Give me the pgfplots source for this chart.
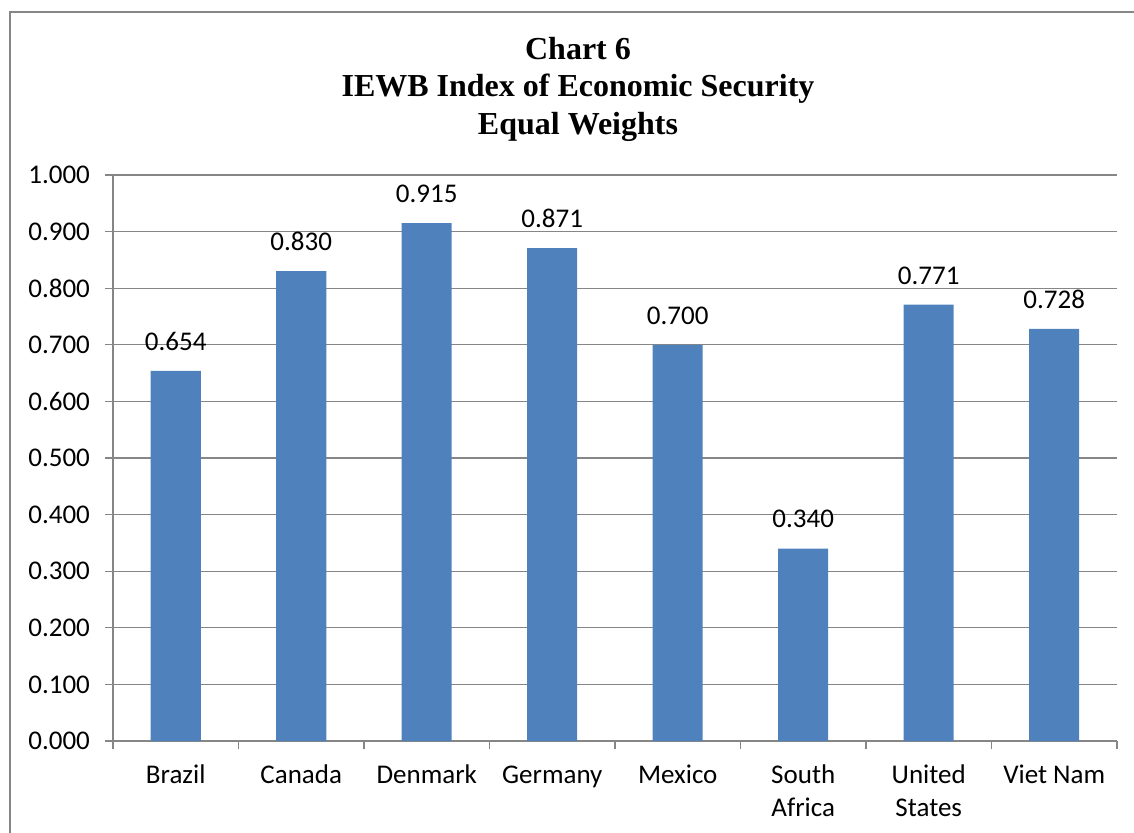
\documentclass[border=0pt]{standalone}
\usepackage{pgfplots}
\pgfplotsset{compat=1.18}
\usepackage{fontspec}
\setmainfont{Carlito}
\newfontfamily\titlefont{Liberation Serif}
\definecolor{barblue}{RGB}{79,129,189}
\definecolor{gridgray}{RGB}{134,134,134}
\pgfplotstableread{
x val
0 0.654
1 0.830
2 0.915
3 0.871
4 0.700
5 0.340
6 0.771
7 0.728
}\datatable
\newcommand{\hp}{\vphantom{Bldy}}
\begin{document}
\begin{tikzpicture}
\useasboundingbox (0,0) rectangle (567pt,-416.5pt);
\draw[gridgray, line width=0.8pt] (5pt,-460pt) -- (5pt,-6pt) -- (620pt,-6pt);
\node[font=\titlefont\bfseries\fontsize{16}{18.75}\selectfont, align=center, anchor=center] at (289pt,-44.5pt) {Chart 6\\IEWB Index of Economic Security\\Equal Weights};
\begin{axis}[
  at={(56.5pt,-370.5pt)}, anchor=south west,
  scale only axis, width=502pt, height=283pt,
  xmin=-0.5, xmax=7.5, ymin=0, ymax=1,
  axis lines*=left,
  axis line style={gridgray, line width=0.6pt},
  ytick={0,0.1,0.2,0.3,0.4,0.5,0.6,0.7,0.8,0.9,1.0},
  /pgf/number format/fixed, /pgf/number format/zerofill, /pgf/number format/precision=3, /pgf/number format/assume math mode=true,
  ymajorgrids, grid style={gridgray, line width=0.6pt},
  tick align=outside, major tick length=4pt, minor tick length=4pt,
  tick style={gridgray, line width=0.6pt},
  xtick={0,...,7},
  every major x tick/.style={draw=none},
  minor xtick={-0.5,0.5,1.5,2.5,3.5,4.5,5.5,6.5,7.5},
  xticklabels={\hp Brazil,\hp Canada,\hp Denmark,\hp Germany,\hp Mexico,{\hp South\\Africa},{\hp United\\States},\hp Viet Nam},
  xticklabel style={align=center, anchor=north, yshift=-4.5pt},
  ticklabel style={font=\fontsize{13.5}{16.5}\selectfont},
  yticklabel style={xshift=-4pt},
  nodes near coords={\pgfmathprintnumber[fixed,zerofill,precision=3,assume math mode=true]{\pgfplotspointmeta}},
  nodes near coords style={font=\fontsize{13.5}{15}\selectfont, anchor=south, inner sep=0pt, yshift=10pt, text=black},
]
\addplot[ybar, bar width=25pt, fill=barblue, draw=none] table[x=x,y=val] {\datatable};
\end{axis}
\end{tikzpicture}
\end{document}
